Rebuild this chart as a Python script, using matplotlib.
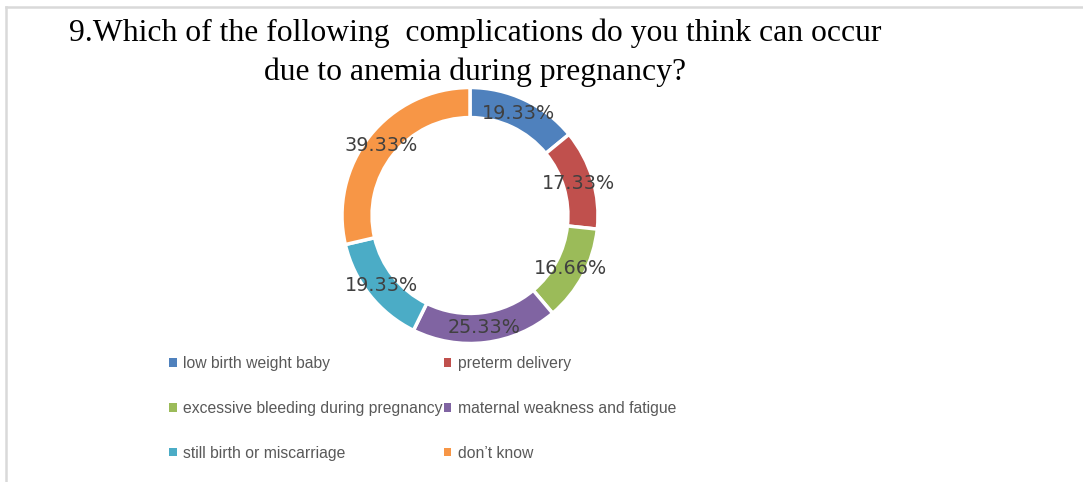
import matplotlib
matplotlib.use("Agg")
import matplotlib.pyplot as plt
from matplotlib.patches import Patch
from matplotlib.lines import Line2D

# data
labels = ["low birth weight baby", "preterm delivery",
          "excessive bleeding during pregnancy", "maternal weakness and fatigue",
          "still birth or miscarriage", "don\u2019t know"]
values = [19.33, 17.33, 16.66, 25.33, 19.33, 39.33]
colors = ["#4F81BD", "#C0504D", "#9BBB59", "#8064A2", "#4BACC6", "#F79646"]
title = "9.Which of the following  complications do you think can occur\ndue to anemia during pregnancy?"

W, H = 1083, 482
fig = plt.figure(figsize=(W / 100, H / 100), dpi=100)

# pie axes: centre (470, 215.5) px, outer radius 128 px
cx, cy, r = 470, 215.5, 128
ax = fig.add_axes([(cx - r) / W, (H - cy - r) / H, 2 * r / W, 2 * r / H])
total = sum(values)

wedges, texts, autotexts = ax.pie(
    values, colors=colors, startangle=90, counterclock=False, radius=1,
    wedgeprops=dict(width=0.235, edgecolor="white", linewidth=2.5),
    autopct=lambda p: "%.2f%%" % (p * total / 100), pctdistance=0.885,
    textprops=dict(color="#404040", fontsize=13.8, family="DejaVu Sans"))
ax.set_xlim(-1, 1)
ax.set_ylim(-1, 1)
ax.set_aspect("equal")

fig.text(475 / W, 1 - 19 / H, title, ha="center", va="top",
         family=["Liberation Serif", "DejaVu Serif"], fontsize=22.8,
         linespacing=1.4, color="black")

# legend, row-major order like the original
order = [0, 2, 4, 1, 3, 5]
handles = [Patch(facecolor=colors[i], edgecolor="none") for i in order]
leg = fig.legend(handles, [labels[i] for i in order], ncol=2,
                 loc="upper left", bbox_to_anchor=(169 / W, 1 - 356 / H),
                 frameon=False, handlelength=0.48, handleheight=0.48,
                 handletextpad=0.4, columnspacing=0.1, labelspacing=1.9,
                 borderaxespad=0, borderpad=0,
                 prop=dict(family=["Liberation Sans", "DejaVu Sans"], size=11.3))
for t in leg.get_texts():
    t.set_color("#595959")

# light border on top and left
fig.add_artist(Line2D([6 / W, 1], [1 - 7 / H, 1 - 7 / H], transform=fig.transFigure,
                      color="#d9d9d9", lw=1.8))
fig.add_artist(Line2D([6 / W, 6 / W], [0, 1 - 7 / H], transform=fig.transFigure,
                      color="#d9d9d9", lw=1.8))

fig.savefig("out.png", dpi=100, facecolor="white")
